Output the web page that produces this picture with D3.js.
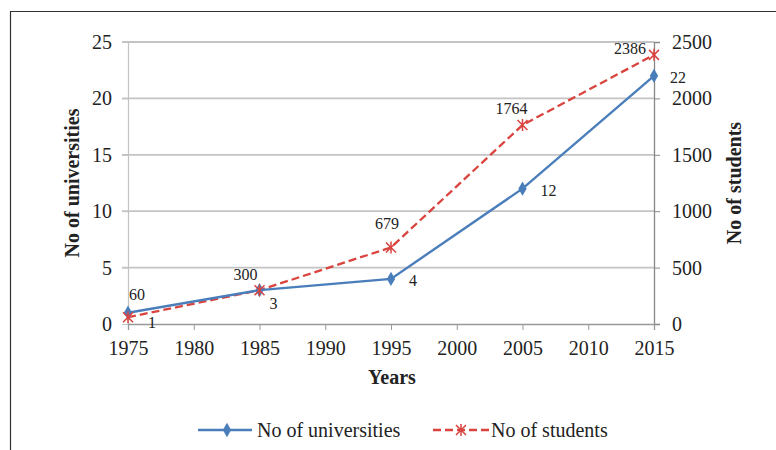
<!DOCTYPE html>
<html>
<head>
<meta charset="utf-8">
<script src="https://cdn.jsdelivr.net/npm/d3@7"></script>
<style>
  body { margin: 0; background: #fff; }
  text { font-family: "Liberation Serif", "Times New Roman", serif; fill: #222; }
</style>
</head>
<body>
<svg id="chart" width="776" height="450"></svg>
<script>
var years = [1975, 1985, 1995, 2005, 2015];
var universities = [1, 3, 4, 12, 22];
var students = [60, 300, 679, 1764, 2386];
var xTicks = [1975, 1980, 1985, 1990, 1995, 2000, 2005, 2010, 2015];
var leftTicks = [0, 5, 10, 15, 20, 25];
var rightTicks = [0, 500, 1000, 1500, 2000, 2500];

var margin = {top: 42, left: 128, right: 654, bottom: 324};
var blue = "#4a7ebb", red = "#d9443f";

var svg = d3.select("#chart");

// outer frame (open on right and bottom)
svg.append("path")
  .attr("d", "M10.5,450 L10.5,11.5 L776,11.5")
  .attr("fill", "none").attr("stroke", "#333").attr("stroke-width", 1.2);

var x = d3.scaleLinear().domain([1975, 2015]).range([margin.left, margin.right]);
var yL = d3.scaleLinear().domain([0, 25]).range([margin.bottom, margin.top]);
var yR = d3.scaleLinear().domain([0, 2500]).range([margin.bottom, margin.top]);

// gridlines
svg.append("g").selectAll("line").data(leftTicks.slice(1)).enter().append("line")
  .attr("x1", margin.left - 6).attr("x2", margin.right)
  .attr("y1", d => yL(d)).attr("y2", d => yL(d))
  .attr("stroke", "#c4c4c4").attr("stroke-width", 1.8);

function styleTicks(g) {
  g.selectAll(".tick text").style("font-size", "20px")
    .style("font-family", "Liberation Serif").attr("fill", "#333");
}

// left axis
var gl = svg.append("g").attr("transform", "translate(" + margin.left + ",0)")
  .call(d3.axisLeft(yL).tickValues(leftTicks).tickSize(6).tickPadding(10));
gl.select(".domain").attr("stroke", "#c4c4c4").attr("stroke-width", 1.2);
gl.selectAll(".tick line").attr("stroke", "#c4c4c4");
styleTicks(gl);

// right axis
var gr = svg.append("g").attr("transform", "translate(" + margin.right + ",0)")
  .call(d3.axisRight(yR).tickValues(rightTicks).tickFormat(d3.format("d")).tickSize(6).tickPadding(12));
gr.select(".domain").attr("stroke", "#888").attr("stroke-width", 1.3);
gr.selectAll(".tick line").attr("stroke", "#888");
styleTicks(gr);

// bottom axis
var gb = svg.append("g").attr("transform", "translate(0," + margin.bottom + ")")
  .call(d3.axisBottom(x).tickValues(xTicks).tickFormat(d3.format("d")).tickSize(6).tickPadding(11));
gb.select(".domain").attr("stroke", "#999").attr("stroke-width", 1.3);
gb.selectAll(".tick line").attr("stroke", "#999");
styleTicks(gb);

// axis titles
svg.append("text").attr("transform", "translate(79,183) rotate(-90)")
  .attr("text-anchor", "middle").style("font-size", "20px").style("font-weight", "bold")
  .text("No of universities");
svg.append("text").attr("transform", "translate(741,183) rotate(-90)")
  .attr("text-anchor", "middle").style("font-size", "20px").style("font-weight", "bold")
  .text("No of students");
svg.append("text").attr("x", 392).attr("y", 384)
  .attr("text-anchor", "middle").style("font-size", "20px").style("font-weight", "bold")
  .text("Years");

var uniData = years.map((y, i) => ({year: y, v: universities[i]}));
var stuData = years.map((y, i) => ({year: y, v: students[i]}));

// students line
svg.append("path").datum(stuData)
  .attr("fill", "none").attr("stroke", red).attr("stroke-width", 2.3)
  .attr("stroke-dasharray", "8,4")
  .attr("d", d3.line().x(d => x(d.year)).y(d => yR(d.v)));

// universities line
svg.append("path").datum(uniData)
  .attr("fill", "none").attr("stroke", blue).attr("stroke-width", 2.4)
  .attr("d", d3.line().x(d => x(d.year)).y(d => yL(d.v)));

var diamond = d3.symbol().type(d3.symbolDiamond).size(60);
var star = function (g) {
  g.append("path").attr("d", "M-5,-5L5,5M-5,5L5,-5M0,-6L0,6")
    .attr("stroke", red).attr("stroke-width", 1.5).attr("fill", "none");
};

svg.append("g").selectAll("path").data(uniData).enter().append("path")
  .attr("transform", d => "translate(" + x(d.year) + "," + yL(d.v) + ")")
  .attr("d", diamond).attr("fill", blue);

svg.append("g").selectAll("g").data(stuData).enter().append("g")
  .attr("transform", d => "translate(" + x(d.year) + "," + yR(d.v) + ")")
  .each(function () { star(d3.select(this)); });

// data labels
var uniOff = [[24, 15], [14, 19], [22, 7], [26, 7], [24, 7]];
svg.append("g").selectAll("text").data(uniData).enter().append("text")
  .attr("x", (d, i) => x(d.year) + uniOff[i][0])
  .attr("y", (d, i) => yL(d.v) + uniOff[i][1])
  .attr("text-anchor", "middle").style("font-size", "16px")
  .text(d => d.v);

var stuOff = [[9, -17], [-14, -10], [-4, -18], [-11, -11], [-24, -1]];
svg.append("g").selectAll("text").data(stuData).enter().append("text")
  .attr("x", (d, i) => x(d.year) + stuOff[i][0])
  .attr("y", (d, i) => yR(d.v) + stuOff[i][1])
  .attr("text-anchor", "middle").style("font-size", "16px")
  .text(d => d.v);

// legend
var lg = svg.append("g").attr("transform", "translate(0,430)");
lg.append("line").attr("x1", 198).attr("x2", 252).attr("y1", 0).attr("y2", 0)
  .attr("stroke", blue).attr("stroke-width", 2.4);
lg.append("path").attr("transform", "translate(227,0)").attr("d", diamond).attr("fill", blue);
lg.append("text").attr("x", 257).attr("y", 7).style("font-size", "20px").text("No of universities");
lg.append("line").attr("x1", 433).attr("x2", 490).attr("y1", 0).attr("y2", 0)
  .attr("stroke", red).attr("stroke-width", 2.3).attr("stroke-dasharray", "8,4");
lg.append("g").attr("transform", "translate(461,0)").call(star);
lg.append("text").attr("x", 491).attr("y", 7).style("font-size", "20px").text("No of students");
</script>
</body>
</html>
